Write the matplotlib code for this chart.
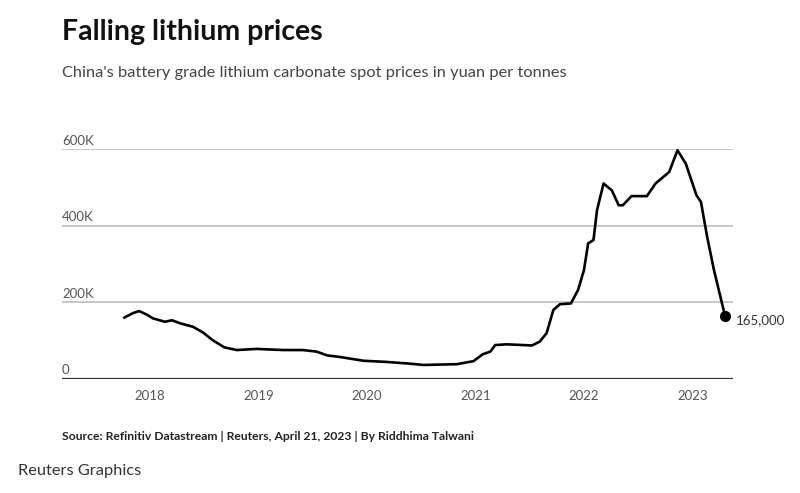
import pandas as pd
import matplotlib.pyplot as plt
import matplotlib.dates as mdates
from matplotlib.transforms import offset_copy

plt.rcParams['font.family'] = ['Lato', 'DejaVu Sans']

# data (yuan per tonne, thousands)
dates = ['2017-10-06', '2017-11-05', '2017-11-25', '2017-12-20', '2018-01-10',
         '2018-02-20', '2018-03-15', '2018-04-12', '2018-05-25', '2018-06-28',
         '2018-07-30', '2018-09-08', '2018-10-20', '2018-12-25', '2019-03-25',
         '2019-05-30', '2019-07-15', '2019-08-20', '2019-10-01', '2019-12-20',
         '2020-03-05', '2020-05-15', '2020-07-10', '2020-10-30', '2020-12-25',
         '2021-01-25', '2021-02-20', '2021-03-08', '2021-04-15', '2021-07-10',
         '2021-08-05', '2021-08-28', '2021-09-20', '2021-10-12', '2021-11-18',
         '2021-12-12', '2022-01-01', '2022-01-15', '2022-02-02', '2022-02-14',
         '2022-03-08', '2022-04-05', '2022-04-28', '2022-05-12', '2022-06-10',
         '2022-08-01', '2022-08-30', '2022-09-25', '2022-10-15', '2022-11-12',
         '2022-12-10', '2023-01-15', '2023-01-30', '2023-02-20', '2023-03-15',
         '2023-04-21']
prices_k = [160, 172, 177, 168, 158,
            149, 153, 145, 136, 121,
            101, 82, 75, 78, 75,
            75, 71, 61, 57, 47,
            44, 40, 36, 38, 46,
            64, 71, 88, 90, 87,
            97, 119, 180, 195, 197,
            232, 284, 354, 363, 441,
            511, 493, 454, 454, 478,
            478, 511, 528, 541, 598,
            563, 480, 463, 371, 284,
            165]

ytick_vals = [0, 200000, 400000, 600000]
ytick_labels = ['0', '200K', '400K', '600K']
years = [2018, 2019, 2020, 2021, 2022, 2023]

x = pd.to_datetime(dates)
y = [v * 1000 for v in prices_k]

W, H = 800, 493
fig = plt.figure(figsize=(W / 100, H / 100), dpi=100)
ax = fig.add_axes([62 / W, 1 - 378.7 / H, (733 - 62) / W, (378.7 - 149.5) / H])

ax.plot(x, y, color='black', lw=1.9, clip_on=False, zorder=3)
ax.plot(x[-1], y[-1], 'o', color='black', ms=7, clip_on=False, zorder=4)
ax.annotate('165,000', (x[-1], y[-1]), xytext=(8, -3), textcoords='offset points',
            ha='left', va='center', fontsize=9.5, color='#333333')

ax.set_ylim(0, 600000)
ax.set_xlim(pd.Timestamp('2017-03-10'), pd.Timestamp('2023-05-18'))

# grid lines + labels above them
for v, lab in zip(ytick_vals, ytick_labels):
    if v == 0:
        ax.axhline(v, color='#333333', lw=1.6, zorder=2)
    else:
        ax.axhline(v, color='#c8c8c8', lw=1.4, zorder=1)
    tr = offset_copy(ax.get_yaxis_transform(), fig=fig, x=0, y=2, units='points')
    ax.text(0, v, lab, transform=tr, ha='left', va='bottom', fontsize=9.5, color='#555555')

ax.set_yticks([])
ax.set_xticks([pd.Timestamp(f'{yr}-01-01') for yr in years])
ax.xaxis.set_major_formatter(mdates.DateFormatter('%Y'))
ax.tick_params(axis='x', length=0, pad=8, labelsize=9.5, labelcolor='#555555')
for s in ax.spines.values():
    s.set_visible(False)

fig.text(62 / W, 1 - 32 / H, 'Falling lithium prices', fontsize=20.5, fontweight='bold',
         color='#111111', va='center', ha='left')
fig.text(62 / W, 1 - 73 / H, "China's battery grade lithium carbonate spot prices in yuan per tonnes",
         fontsize=11.8, color='#444444', va='center', ha='left')
fig.text(62 / W, 1 - 437 / H, 'Source: Refinitiv Datastream | Reuters, April 21, 2023 | By Riddhima Talwani',
         fontsize=8.7, fontweight='bold', color='#222222', va='center', ha='left')
fig.text(18 / W, 1 - 471 / H, 'Reuters Graphics', fontsize=11.8, color='#333333', va='center', ha='left')

fig.savefig('out.png', dpi=100, facecolor='white')
